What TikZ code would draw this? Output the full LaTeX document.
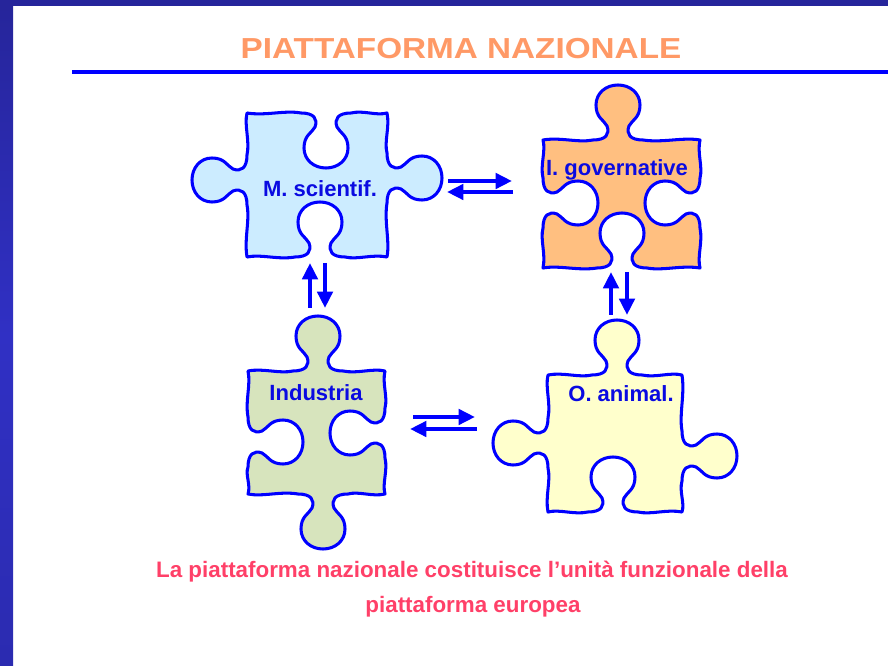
\documentclass[tikz,border=0pt]{standalone}
\usepackage{fontspec}
\setmainfont{Liberation Sans}
\usepackage{tikz}
\usetikzlibrary{arrows.meta}

\definecolor{barc}{RGB}{38,37,155}
\definecolor{barl}{RGB}{48,48,196}
\definecolor{titlec}{RGB}{255,153,102}
\definecolor{notec}{RGB}{255,64,104}
\definecolor{lblc}{RGB}{10,10,225}
\definecolor{fillms}{RGB}{204,236,255}
\definecolor{fillig}{RGB}{255,191,128}
\definecolor{fillin}{RGB}{215,228,189}
\definecolor{fillan}{RGB}{255,255,204}

% one side of a puzzle piece: start, angle, length, 1 tab / -1 blank, knob position
\newcommand\pzside[5]{%
  {[shift={(#1)},rotate=#2,yscale=#4]
  .. controls ({0.35*(#5-25)},3) and ({0.7*(#5-25)},-3) .. (#5-25,0)
  .. controls (#5-12,0) and (#5-8,6) .. (#5-11,14)
  .. controls (#5-14,20) and (#5-22,22) .. (#5-22,35)
  .. controls (#5-22,47) and (#5-12,55) .. (#5,55)
  .. controls (#5+12,55) and (#5+22,47) .. (#5+22,35)
  .. controls (#5+22,22) and (#5+14,20) .. (#5+11,14)
  .. controls (#5+8,6) and (#5+12,0) .. (#5+25,0)
  .. controls ({#5+25+0.35*(#3-#5-25)},-3) and ({#5+25+0.7*(#3-#5-25)},3) .. (#3,0)}}

\begin{document}
\begin{tikzpicture}[x=0.03cm,y=0.03cm,
    piece/.style={draw=blue, line width=2.6pt, line join=round},
    lbl/.style={anchor=base, text=lblc, font=\fontsize{18.8}{22}\selectfont\bfseries},
    note/.style={anchor=base, text=notec, font=\fontsize{19.1}{22}\selectfont\bfseries},
    arr/.style={-{Triangle[length=14pt,width=13pt]}, blue, line width=3.4pt}]
\useasboundingbox (0,0) rectangle (888,665);
\fill[barc] (0,659) rectangle (888,665);
\shade[top color=barc, bottom color=barl!90!black, middle color=barl] (0,0) rectangle (13,659);

\node[anchor=base, text=titlec, font=\fontsize{24.7}{28}\selectfont\bfseries] (t) at (461,606.5) {\scalebox{1.15}[1]{PIATTAFORMA NAZIONALE}};
\draw[blue, line width=2.6pt] (72,593) -- (888,593);

\draw[piece, fill=fillms] (247,552) \pzside{247,552}{0}{140}{-1}{79} \pzside{387,552}{-90}{144}{1}{65}
   \pzside{387,408}{180}{140}{-1}{67} \pzside{247,408}{90}{144}{1}{77} -- cycle;
\draw[piece, fill=fillig] (543,525) \pzside{543,525}{0}{157}{1}{75} \pzside{700,525}{-90}{128}{-1}{63}
   \pzside{700,397}{180}{157}{-1}{78} \pzside{543,397}{90}{128}{-1}{65} -- cycle;
\draw[piece, fill=fillin] (248,294) \pzside{248,294}{0}{137}{1}{70} \pzside{385,294}{-90}{123}{-1}{62}
   \pzside{385,171}{180}{137}{1}{62} \pzside{248,171}{90}{123}{-1}{52} -- cycle;
\draw[piece, fill=fillan] (548,290) \pzside{548,290}{0}{134}{1}{69} \pzside{682,290}{-90}{137}{1}{81}
   \pzside{682,153}{180}{134}{-1}{69} \pzside{548,153}{90}{137}{1}{69} -- cycle;

\node[lbl] (p1) at (320,468) {M. scientif.};
\node[lbl] (p2) at (617,489) {I. governative};
\node[lbl] (p3) at (316,264) {Industria};
\node[lbl] (p4) at (621,263) {O. animal.};

\coordinate (h1) at (448,484);
\coordinate (h2) at (513,473);
\coordinate (h3) at (413,248);
\coordinate (h4) at (477,236);
\coordinate (v1) at (310,357);
\coordinate (v2) at (325,402);
\coordinate (v3) at (611,350);
\coordinate (v4) at (627,393);
\draw[arr] (h1) -- ++(64,0);
\draw[arr] (h2) -- ++(-66,0);
\draw[arr] (h3) -- ++(62,0);
\draw[arr] (h4) -- ++(-67,0);
\draw[arr] (v1) -- ++(0,45);
\draw[arr] (v2) -- ++(0,-45);
\draw[arr] (v3) -- ++(0,43);
\draw[arr] (v4) -- ++(0,-43);

\node[note] (n1) at (472,87) {La piattaforma nazionale costituisce l’unità funzionale della};
\node[note] (n2) at (473,53) {piattaforma europea};
\end{tikzpicture}
\end{document}
